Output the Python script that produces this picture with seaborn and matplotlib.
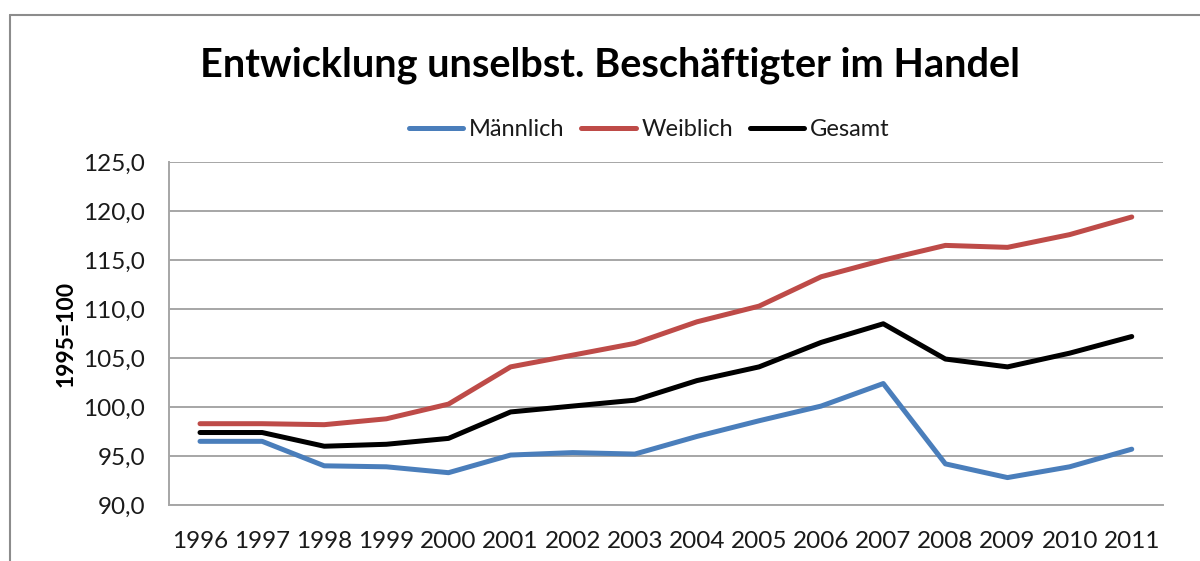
import pandas as pd
import seaborn as sns
import matplotlib.pyplot as plt
from matplotlib.ticker import FuncFormatter
from matplotlib.lines import Line2D

# Daten (Index 1995=100)
jahre = list(range(1996, 2012))
maennlich = [96.5, 96.5, 94.0, 93.9, 93.3, 95.1, 95.35, 95.2,
             97.0, 98.6, 100.1, 102.4, 94.2, 92.8, 93.9, 95.7]
weiblich = [98.3, 98.3, 98.2, 98.8, 100.3, 104.1, 105.3, 106.5,
            108.7, 110.3, 113.3, 115.0, 116.5, 116.3, 117.6, 119.4]
gesamt = [97.4, 97.4, 96.0, 96.2, 96.8, 99.5, 100.1, 100.7,
          102.7, 104.1, 106.6, 108.5, 104.9, 104.1, 105.5, 107.2]
serien = ["Männlich", "Weiblich", "Gesamt"]
farben = ["#4A7EBB", "#BE4B48", "#000000"]

df = pd.DataFrame({"Jahr": jahre * 3,
                   "Wert": maennlich + weiblich + gesamt,
                   "Serie": [s for s in serien for _ in jahre]})

sns.set_style("white")
plt.rcParams["font.family"] = ["Lato", "DejaVu Sans"]

fig = plt.figure(figsize=(12, 5.61), dpi=100)
ax = fig.add_axes([0.1408, 0.0998, 0.969 - 0.1408, 0.711 - 0.0998])

sns.lineplot(data=df, x="Jahr", y="Wert", hue="Serie", palette=farben,
             linewidth=3.6, legend=False, ax=ax)

ax.set_xlim(1995.5, 2011.5)
ax.set_ylim(90, 125)
ax.set_yticks(range(90, 126, 5))
ax.yaxis.set_major_formatter(FuncFormatter(lambda v, p: f"{v:.1f}".replace(".", ",")))
ax.set_xticks(jahre)
ax.tick_params(axis="both", length=0, labelsize=17.5, colors="#1A1A1A")
ax.tick_params(axis="x", pad=19)
ax.tick_params(axis="y", pad=17)
ax.grid(axis="y", color="#A6A6A6", linewidth=1.4)
ax.set_axisbelow(True)
for side in ["top", "right"]:
    ax.spines[side].set_visible(False)
ax.spines["left"].set_color("#A6A6A6")
ax.spines["bottom"].set_color("#A6A6A6")
ax.spines["left"].set_linewidth(1.4)
ax.spines["bottom"].set_linewidth(1.4)
ax.set_xlabel("")
ax.set_ylabel("1995=100", fontsize=16.5, fontweight="bold", labelpad=5,
              color="black")

fig.text(0.508, 0.884, "Entwicklung unselbst. Beschäftigter im Handel",
         ha="center", va="center", fontsize=28.5, fontweight="bold",
         color="black")

handles = [Line2D([], [], color=c, linewidth=3.6) for c in farben]
fig.legend(handles, serien, loc="center", bbox_to_anchor=(0.541, 0.769),
           ncol=3, frameon=False, fontsize=17, handlelength=2.3,
           handletextpad=0.25, columnspacing=0.7, labelcolor="#1A1A1A")

# Rahmen des Diagrammbereichs
fig.add_artist(Line2D([10 / 1200, 1], [1 - 15 / 561, 1 - 15 / 561],
                      color="#8C8C8C", linewidth=1.5))
fig.add_artist(Line2D([10 / 1200, 10 / 1200], [0, 1 - 15 / 561],
                      color="#8C8C8C", linewidth=1.5))

fig.savefig("out.png", dpi=100)
